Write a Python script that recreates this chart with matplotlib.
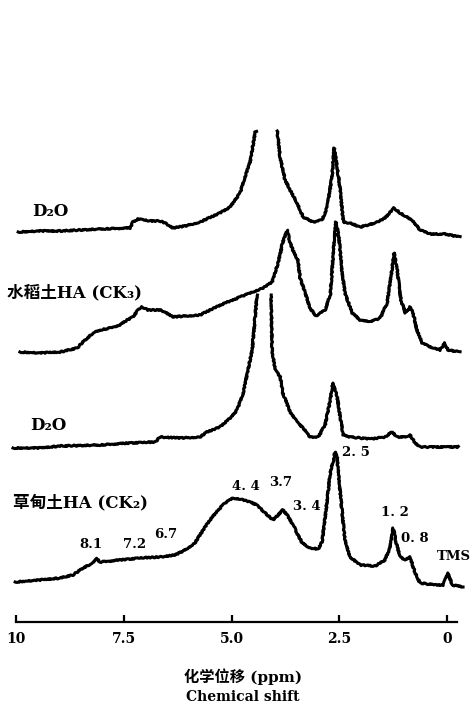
import numpy as np
import matplotlib as mpl
mpl.use('Agg')
import matplotlib.pyplot as plt

plt.rcParams['font.family'] = ['DejaVu Serif', 'Noto Sans CJK SC']
nan = np.nan

# Spectra: chemical shift (ppm) and height above each trace's own baseline
# nan = the water peak goes off the top and is cut
ppm_1 = [9.95, 9.44, 8.98, 8.05, 7.35, 7.29, 7.17, 6.89, 6.66, 6.54, 6.36, 6.08, 5.73, 5.27, 5.03,
         4.92, 4.80, 4.69, 4.57, 4.45, 4.43, nan, 3.94, 3.87, 3.76, 3.64, 3.48, 3.34, 3.11, 2.90,
         2.78, 2.67, 2.62, 2.55, 2.48, 2.41, 2.25, 2.02, 1.67, 1.44, 1.23, 1.09, 0.81, 0.63, 0.39,
         0.05, -0.30]
int_1 = [0, 1, 1, 3, 4, 10, 13, 11, 11, 9, 4, 6, 10, 19, 25,
         32, 39, 55, 70, 100, 101, nan, 101, 74, 52, 42, 29, 15, 10, 12,
         25, 55, 84, 65, 42, 10, 9, 5, 9, 14, 24, 19, 12, 2, -2,
         -2, -5]

ppm_2 = [9.91, 9.44, 8.98, 8.58, 8.45, 8.21, 8.05, 7.82, 7.59, 7.42, 7.29, 7.17, 7.08, 6.94, 6.66,
         6.54, 6.36, 6.08, 5.73, 5.50, 5.15, 5.03, 4.80, 4.57, 4.27, 4.06, 3.92, 3.81, 3.71, 3.64,
         3.55, 3.46, 3.41, 3.29, 3.18, 3.04, 2.83, 2.71, 2.65, 2.58, 2.51, 2.44, 2.37, 2.20, 2.02,
         1.79, 1.55, 1.39, 1.28, 1.23, 1.16, 1.07, 0.97, 0.86, 0.79, 0.70, 0.58, 0.39, 0.16, 0.05,
         -0.02, -0.30]
int_2 = [0, -1, 0, 4, 10, 19, 22, 24, 27, 32, 35, 42, 45, 42, 42,
         40, 35, 36, 37, 42, 49, 51, 55, 59, 64, 70, 89, 110, 122, 109,
         99, 92, 74, 59, 44, 36, 42, 57, 92, 130, 115, 82, 59, 39, 32,
         30, 34, 49, 82, 99, 82, 52, 39, 45, 39, 22, 9, 5, 2, 9,
         2, 0]

ppm_3 = [10.07, 9.44, 8.98, 8.05, 7.35, 6.77, 6.66, 6.19, 5.73, 5.57, 5.27, 5.03, 4.87, 4.73, 4.62,
         4.52, 4.41, nan, 4.08, 4.06, 3.99, 3.87, 3.81, 3.64, 3.48, 3.34, 3.18, 2.99, 2.83, 2.71,
         2.65, 2.55, 2.48, 2.41, 2.25, 1.79, 1.44, 1.28, 1.16, 0.97, 0.86, 0.74, 0.63, 0.16, -0.26]
int_3 = [0, 0, 2, 3, 5, 6, 11, 10, 11, 16, 21, 30, 38, 55, 78,
         98, 153, nan, 153, 98, 78, 71, 55, 36, 26, 20, 11, 11, 23, 48,
         65, 51, 31, 13, 11, 9, 11, 16, 11, 11, 13, 5, 1, 1, 1]

ppm_4 = [10.02, 9.44, 8.98, 8.68, 8.45, 8.21, 8.14, 8.05, 7.59, 7.12, 6.66, 6.31, 6.08, 5.85, 5.66,
         5.50, 5.31, 5.15, 4.97, 4.80, 4.57, 4.41, 4.22, 4.04, 3.92, 3.81, 3.71, 3.57, 3.46, 3.36,
         3.18, 2.99, 2.90, 2.81, 2.71, 2.65, 2.60, 2.55, 2.51, 2.44, 2.37, 2.25, 2.02, 1.67, 1.44,
         1.32, 1.25, 1.18, 1.09, 0.97, 0.86, 0.74, 0.63, 0.28, 0.09, -0.02, -0.12, -0.37]
int_4 = [0, 2, 4, 7, 14, 19, 24, 20, 22, 24, 25, 27, 32, 39, 52,
         62, 72, 79, 84, 83, 80, 77, 69, 62, 67, 72, 67, 57, 47, 39,
         34, 33, 40, 72, 109, 120, 130, 124, 102, 72, 42, 25, 17, 16, 22,
         35, 54, 39, 25, 22, 25, 9, -1, -3, -3, 9, -3, -5]

spectra = [(ppm_1, int_1), (ppm_2, int_2), (ppm_3, int_3), (ppm_4, int_4)]
offsets = [390, 270, 174, 40]  # vertical stacking of the four traces

trace_names = ['D\u2082O', '水稻土HA (CK\u2083)', 'D\u2082O', '草甸土HA (CK\u2082)']
name_pos = [(9.21, 410, 'center'), (10.21, 329, 'left'), (9.26, 197, 'center'), (10.07, 119, 'left')]

peak_labels = ['8.1', '7.2', '6.7', '4. 4', '3.7', '3. 4', '2. 5', '1. 2', '0. 8', 'TMS']
peak_pos = [(8.26, 77), (7.24, 77), (6.52, 87), (4.66, 135), (3.85, 139), (3.25, 115),
            (2.11, 169), (1.21, 110), (0.74, 84), (-0.16, 65)]

ticks = [10, 7.5, 5.0, 2.5, 0]
tick_labels = ['10', '7.5', '5.0', '2.5', '0']

# Plot
fig = plt.figure(figsize=(4.76, 7.10), dpi=100)
ax = fig.add_axes([16 / 476, 88 / 710, 441 / 476, 522 / 710])

for (p, h), off in zip(spectra, offsets):
    line, = ax.plot(p, np.array(h, dtype=float) + off, color='black', lw=2.2,
                    solid_joinstyle='round', clip_on=False)
    line.set_sketch_params(scale=0.6, length=2.5, randomness=3)

for name, (x, y, ha) in zip(trace_names, name_pos):
    ax.text(x, y, name, ha=ha, va='center', fontsize=12, fontweight='bold')

for lab, (x, y) in zip(peak_labels, peak_pos):
    ax.text(x, y, lab, ha='center', va='center', fontsize=9.5, fontweight='bold')

ax.set_xlim(10, -0.23)
ax.set_ylim(0, 522)
for s in ['top', 'left', 'right']:
    ax.spines[s].set_visible(False)
ax.spines['bottom'].set_linewidth(1.6)
ax.set_yticks([])
ax.set_xticks(ticks)
ax.set_xticklabels(tick_labels, fontsize=10, fontweight='bold')
ax.tick_params(axis='x', direction='in', length=5, width=1.6, pad=7)

fig.text(243 / 476, 1 - 677 / 710, '化学位移 (ppm)', ha='center', va='center',
         fontsize=11, fontweight='bold')
fig.text(243 / 476, 1 - 697 / 710, 'Chemical shift', ha='center', va='center',
         fontsize=10, fontweight='bold')

fig.savefig('out.png', dpi=100)
